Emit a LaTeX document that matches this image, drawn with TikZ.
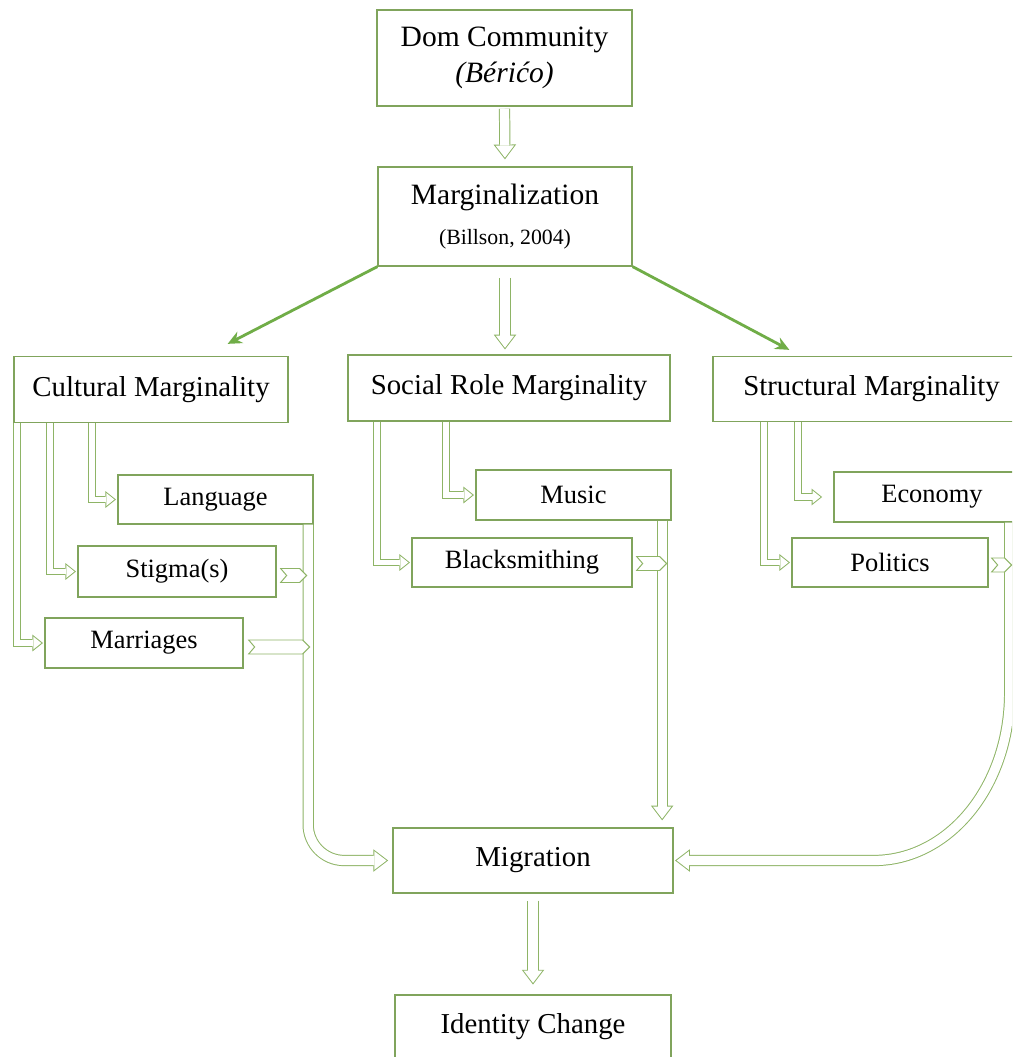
\documentclass[tikz,border=0pt]{standalone}
\usepackage{fontspec}
\setmainfont{Liberation Serif}
\usetikzlibrary{arrows.meta,calc}

\definecolor{boxgreen}{RGB}{128,164,92}
\definecolor{arrgreen}{RGB}{112,173,71}
\definecolor{pipegreen}{RGB}{142,180,102}

\begin{document}
\begin{tikzpicture}[x=0.025cm,y=-0.025cm,line join=miter]
  \tikzstyle{box}=[draw=boxgreen,line width=0.9pt,fill=white,inner sep=0pt,align=center]
  \tikzstyle{bigtext}=[font=\fontsize{21}{26}\selectfont]
  \tikzstyle{cattext}=[font=\fontsize{20.5}{24}\selectfont]
  \tikzstyle{subtext}=[font=\fontsize{18.8}{22}\selectfont]
  \tikzstyle{pipe}=[draw=white,line width=6.6pt,-{Triangle[length=8.65pt,width=13.2pt,line width=0pt,sep=1.15pt]},
                    preaction={draw=pipegreen,line width=8pt,-{Triangle[length=10.5pt,width=16pt,line width=0pt]}}]
  \tikzstyle{elbow}=[draw=white,line width=4.1pt,-{Triangle[length=5.7pt,width=9.1pt,line width=0pt,sep=1.12pt]},
                     preaction={draw=pipegreen,line width=5.5pt,-{Triangle[length=7.5pt,width=12pt,line width=0pt]}}]
  \tikzstyle{branch}=[draw=arrgreen,line width=2pt,-{Stealth[length=10pt,width=9pt]}]
  \tikzstyle{notch}=[draw=pipegreen,line width=0.7pt,fill=white]

  \useasboundingbox (0,0) rectangle (1012,1057);
  \fill[white] (0,0) rectangle (1012,1057);
  \clip (0,0) rectangle (1012,1057);

  % top of the chain
  \node[box,bigtext,minimum width=6.375cm,minimum height=2.4cm] (dom) at (504.5,58) {Dom Community\\\textit{(Bérićo)}};
  \node[box,bigtext,minimum width=6.35cm,minimum height=2.475cm] (marg) at (505,216.5) {Marginalization\\[2pt]{\fontsize{15.5}{18}\selectfont(Billson, 2004)}};

  % three kinds of marginality
  \node[box,cattext,minimum width=6.85cm,minimum height=1.65cm] (cult) at (151,389.5) {Cultural Marginality};
  \node[box,cattext,minimum width=8.05cm,minimum height=1.65cm] (social) at (509,388) {Social Role Marginality};
  \node[box,cattext,minimum width=7.925cm,minimum height=1.625cm] (struc) at (871.5,389) {Structural Marginality};

  \node[box,subtext,minimum width=4.875cm,minimum height=1.225cm] (lang) at (215.5,499.5) {Language};
  \node[box,subtext,minimum width=4.95cm,minimum height=1.275cm] (stig) at (177,571.5) {Stigma(s)};
  \node[box,subtext,minimum width=4.95cm,minimum height=1.25cm] (marr) at (144,643) {Marriages};

  \node[box,subtext,minimum width=4.875cm,minimum height=1.25cm] (music) at (573.5,495) {Music};
  \node[box,subtext,minimum width=5.5cm,minimum height=1.225cm] (black) at (522,562.5) {Blacksmithing};

  \node[box,subtext,minimum width=4.9cm,minimum height=1.25cm] (econ) at (932,497) {Economy};
  \node[box,subtext,minimum width=4.9cm,minimum height=1.225cm] (pol) at (890,562.5) {Politics};

  % bottom
  \node[box,cattext,minimum width=7cm,minimum height=1.625cm] (mig) at (533,860.5) {Migration};
  \node[box,cattext,minimum width=6.9cm,minimum height=1.6cm] (ident) at (533,1027) {Identity Change};

  \coordinate (langdrop) at ($(lang.south east)+(-5.5,0)$);
  \coordinate (musdrop) at ($(music.south east)+(-9.5,0)$);
  \coordinate (ecodrop) at ($(econ.south east)+(-21,0)$);

  \draw[pipe,shorten <=1.5pt,shorten >=5pt] (dom.south) -- (marg.north);
  \draw[pipe,shorten <=8pt,shorten >=3.5pt] (marg.south) -- (marg.south |- social.north);
  \draw[branch] (marg.south west) -- ($(cult.north east)+(-61,-12)$);
  \draw[branch] (marg.south east) -- ($(struc.north west)+(77,-6)$);

  \draw[elbow,shorten >=1pt] ($(cult.south west)+(4,0)$) |- (marr.west);
  \draw[elbow,shorten >=1pt] ($(cult.south west)+(36.5,0)$) |- (stig.west);
  \draw[elbow,shorten >=1pt] ($(cult.south west)+(79,0)$) |- (lang.west);

  \draw[elbow,shorten >=1pt] ($(social.south west)+(29.5,0)$) |- (black.west);
  \draw[elbow,shorten >=1pt] ($(social.south west)+(99,0)$) |- (music.west);

  \draw[elbow,shorten >=1pt] ($(struc.south west)+(52,0)$) |- (pol.west);
  \draw[elbow,shorten >=8pt] ($(struc.south west)+(86,0)$) |- (econ.west);

  % into migration
  \draw[pipe,rounded corners=0.9cm,shorten >=3pt] (langdrop) |- (mig.west);
  \draw[pipe,shorten >=5pt] (musdrop) -- (musdrop |- mig.north);
  \draw[pipe,shorten >=1pt] (ecodrop) -- ++(0,170) .. controls +(0,94) and +(75,0) .. ($(mig.east)+(200,0)$) -- (mig.east);

  \draw[notch] ($(stig.east)+(4,-3)$) -- ++(19,0) -- ++(7,7) -- ++(-7,7) -- ++(-19,0) -- ++(6,-7) -- cycle;
  \draw[notch] ($(marr.east)+(5,-3)$) -- ++(54,0) -- ++(7,7) -- ++(-7,7) -- ++(-54,0) -- ++(6,-7) -- cycle;
  \draw[notch] ($(black.east)+(4,-6)$) -- ++(23,0) -- ++(7,7) -- ++(-7,7) -- ++(-23,0) -- ++(6,-7) -- cycle;
  \draw[notch] ($(pol.east)+(3,-4.5)$) -- ++(13,0) -- ++(7,7) -- ++(-7,7) -- ++(-13,0) -- ++(6,-7) -- cycle;

  \draw[pipe,shorten <=5pt,shorten >=7pt] (mig.south) -- (ident.north);
\end{tikzpicture}
\end{document}
